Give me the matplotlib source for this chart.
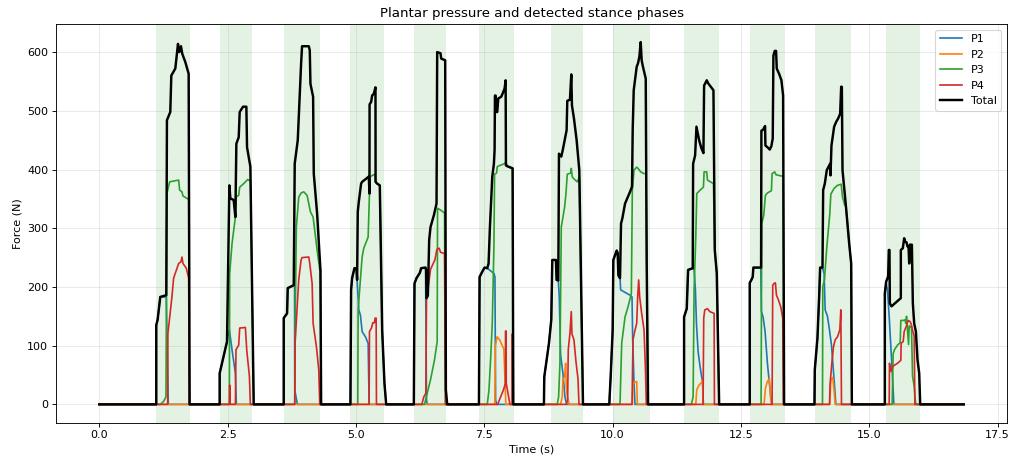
import matplotlib
matplotlib.use("Agg")
import matplotlib.pyplot as plt

# stance phases detected (s)
stance_start = [1.111, 2.345, 3.593, 4.893, 6.127, 7.407, 8.791, 10.014, 11.390, 12.676, 13.938, 15.322]
stance_end = [1.760, 2.977, 4.308, 5.556, 6.745, 8.076, 9.421, 10.721, 12.072, 13.353, 14.653, 15.990]

t_end = 16.84

# (time s, force N) breakpoints
total_pts = [
    (0.0, 0),
    (1.111, 0), (1.111, 135), (1.137, 144), (1.189, 183), (1.306, 186), (1.319, 484), (1.384, 498),
    (1.404, 560), (1.482, 572), (1.534, 614), (1.560, 600), (1.592, 610), (1.618, 597), (1.677, 583),
    (1.742, 563), (1.761, 0),
    (2.346, 0), (2.346, 53), (2.489, 107), (2.535, 373), (2.554, 351), (2.619, 348), (2.652, 319),
    (2.671, 444), (2.717, 455), (2.736, 498), (2.801, 507), (2.866, 507), (2.879, 438), (2.944, 405),
    (3.009, 0),
    (3.594, 0), (3.594, 147), (3.659, 155), (3.672, 198), (3.789, 203), (3.808, 410), (3.867, 450),
    (3.932, 580), (3.951, 610), (4.082, 610), (4.101, 603), (4.114, 546), (4.166, 524), (4.179, 393),
    (4.244, 325), (4.309, 229), (4.322, 0),
    (4.893, 0), (4.906, 195), (4.926, 215), (4.971, 232), (5.010, 232), (5.023, 212), (5.036, 328),
    (5.056, 345), (5.101, 376), (5.121, 379), (5.251, 388), (5.264, 359), (5.266, 511), (5.296, 515),
    (5.316, 526), (5.348, 529), (5.381, 540), (5.383, 379), (5.413, 376), (5.465, 373), (5.511, 127),
    (5.556, 36), (5.589, 0),
    (6.128, 0), (6.141, 206), (6.180, 215), (6.245, 224), (6.271, 232), (6.356, 233), (6.368, 229),
    (6.375, 181), (6.401, 185), (6.427, 280), (6.453, 302), (6.518, 322), (6.570, 342), (6.583, 600),
    (6.648, 598), (6.661, 589), (6.739, 586), (6.752, 25), (6.778, 0),
    (7.396, 0), (7.409, 217), (7.461, 226), (7.506, 233), (7.558, 232), (7.584, 240), (7.610, 302),
    (7.656, 388), (7.688, 410), (7.701, 433), (7.708, 526), (7.721, 526), (7.734, 498), (7.753, 498),
    (7.773, 521), (7.831, 524), (7.870, 532), (7.896, 538), (7.916, 552), (7.922, 407), (7.968, 405),
    (8.052, 402), (8.065, 0),
    (8.662, 0), (8.669, 47), (8.760, 104), (8.805, 144), (8.825, 246), (8.896, 246), (8.909, 212),
    (8.942, 211), (8.955, 427), (9.000, 422), (9.026, 432), (9.065, 450), (9.104, 467), (9.117, 517),
    (9.169, 519), (9.195, 562), (9.208, 509), (9.247, 487), (9.299, 450), (9.351, 399), (9.377, 251),
    (9.410, 70), (9.423, 0),
    (9.936, 0), (9.942, 13), (9.962, 47), (10.001, 127), (10.014, 246), (10.079, 262), (10.099, 258),
    (10.112, 220), (10.144, 215), (10.164, 308), (10.190, 317), (10.242, 342), (10.339, 362),
    (10.378, 371), (10.391, 467), (10.411, 535), (10.469, 575), (10.495, 581), (10.521, 592),
    (10.547, 617), (10.566, 586), (10.586, 577), (10.645, 555), (10.664, 240), (10.690, 0),
    (11.392, 0), (11.392, 149), (11.444, 163), (11.470, 229), (11.561, 232), (11.568, 410),
    (11.607, 424), (11.633, 473), (11.685, 450), (11.730, 436), (11.769, 428), (11.782, 543),
    (11.834, 552), (11.860, 547), (11.964, 535), (11.990, 263), (12.029, 223), (12.075, 0),
    (12.671, 0), (12.671, 207), (12.703, 212), (12.729, 217), (12.742, 233), (12.892, 233),
    (12.898, 466), (12.931, 468), (12.950, 471), (12.970, 474), (12.976, 441), (13.028, 437),
    (13.061, 434), (13.093, 440), (13.119, 453), (13.132, 594), (13.158, 602), (13.184, 602),
    (13.197, 572), (13.243, 563), (13.288, 552), (13.321, 526), (13.340, 0),
    (13.932, 0), (13.938, 59), (13.990, 113), (14.023, 183), (14.042, 233), (14.088, 233),
    (14.101, 365), (14.133, 376), (14.172, 399), (14.218, 407), (14.237, 410), (14.244, 390),
    (14.250, 407), (14.263, 441), (14.315, 473), (14.354, 481), (14.393, 487), (14.432, 495),
    (14.452, 541), (14.465, 541), (14.478, 399), (14.543, 339), (14.608, 274), (14.647, 240),
    (14.660, 0),
    (15.302, 0), (15.302, 189), (15.328, 209), (15.367, 218), (15.380, 263), (15.393, 263),
    (15.400, 172), (15.432, 167), (15.484, 171), (15.562, 177), (15.614, 181), (15.614, 263),
    (15.653, 266), (15.679, 283), (15.699, 277), (15.725, 276), (15.744, 269), (15.764, 269),
    (15.777, 240), (15.790, 272), (15.829, 272), (15.848, 172), (15.874, 138), (15.907, 124),
    (15.939, 76), (15.972, 53), (15.991, 0),
    (t_end, 0),
]

p1_pts = [
    (0.0, 0),
    (1.111, 0), (1.111, 135), (1.137, 144), (1.189, 183), (1.306, 183), (1.345, 0),
    (2.346, 0), (2.346, 53), (2.489, 107), (2.535, 127), (2.587, 93), (2.652, 53), (2.671, 0),
    (3.594, 0), (3.594, 147), (3.659, 155), (3.672, 198), (3.789, 203), (3.805, 203), (3.808, 25),
    (3.860, 0),
    (4.893, 0), (4.906, 195), (4.926, 215), (4.971, 232), (5.010, 232), (5.023, 212), (5.056, 161),
    (5.088, 152), (5.121, 124), (5.186, 115), (5.238, 104), (5.257, 0),
    (6.128, 0), (6.141, 206), (6.180, 215), (6.245, 224), (6.271, 232), (6.356, 233), (6.375, 8),
    (6.388, 0),
    (7.396, 0), (7.409, 217), (7.461, 226), (7.506, 233), (7.558, 232), (7.688, 223), (7.708, 217),
    (7.721, 8), (7.740, 0),
    (8.662, 0), (8.669, 47), (8.760, 104), (8.805, 144), (8.825, 246), (8.896, 246), (8.909, 212),
    (8.942, 211), (8.961, 183), (8.987, 84), (9.032, 53), (9.071, 13), (9.104, 0),
    (9.936, 0), (9.942, 13), (9.962, 47), (10.001, 127), (10.014, 246), (10.079, 262), (10.099, 258),
    (10.112, 220), (10.144, 215), (10.157, 195), (10.339, 186), (10.378, 183), (10.391, 110),
    (10.417, 36), (10.436, 0),
    (11.392, 0), (11.392, 149), (11.444, 163), (11.470, 229), (11.561, 232), (11.587, 229),
    (11.613, 195), (11.633, 138), (11.665, 90), (11.704, 64), (11.750, 39), (11.769, 0),
    (12.671, 0), (12.671, 207), (12.703, 212), (12.729, 217), (12.742, 233), (12.885, 233),
    (12.898, 158), (12.931, 149), (12.970, 124), (13.015, 70), (13.048, 41), (13.087, 8), (13.106, 0),
    (13.932, 0), (13.938, 59), (13.990, 113), (14.023, 183), (14.042, 233), (14.088, 233),
    (14.120, 223), (14.140, 161), (14.185, 150), (14.224, 127), (14.263, 101), (14.295, 64),
    (14.328, 25), (14.348, 0),
    (15.302, 0), (15.302, 189), (15.328, 206), (15.354, 195), (15.387, 150), (15.419, 99),
    (15.452, 48), (15.478, 0),
    (t_end, 0),
]

p2_pts = [
    (0.0, 0),
    (7.705, 0), (7.716, 100), (7.750, 115), (7.800, 110), (7.850, 100), (7.880, 95), (7.905, 40),
    (7.920, 0),
    (8.987, 0), (9.019, 13), (9.032, 44), (9.065, 46), (9.085, 70), (9.097, 30), (9.124, 11),
    (9.156, 0),
    (10.384, 0), (10.397, 36), (10.469, 39), (10.482, 0),
    (11.620, 0), (11.639, 25), (11.685, 33), (11.730, 37), (11.756, 41), (11.762, 0),
    (12.950, 0), (12.976, 27), (13.015, 39), (13.054, 44), (13.080, 8), (13.093, 0),
    (14.231, 0), (14.250, 41), (14.289, 46), (14.315, 22), (14.335, 0),
    (t_end, 0),
]

p3_pts = [
    (0.0, 0),
    (1.189, 0), (1.254, 5), (1.300, 13), (1.319, 359), (1.371, 379), (1.547, 382), (1.566, 365),
    (1.612, 362), (1.631, 355), (1.742, 349), (1.755, 0),
    (2.535, 0), (2.541, 223), (2.587, 274), (2.652, 319), (2.671, 354), (2.717, 356), (2.736, 370),
    (2.814, 376), (2.892, 383), (2.948, 380), (3.009, 0),
    (3.808, 0), (3.821, 166), (3.840, 302), (3.886, 353), (3.932, 360), (3.984, 362), (4.049, 356),
    (4.114, 328), (4.166, 319), (4.244, 263), (4.296, 229), (4.309, 229), (4.322, 0),
    (5.036, 0), (5.043, 161), (5.121, 251), (5.153, 266), (5.238, 285), (5.264, 359), (5.277, 388),
    (5.368, 392), (5.383, 379), (5.413, 376), (5.465, 373), (5.511, 127), (5.556, 36), (5.589, 0),
    (6.336, 0), (6.453, 42), (6.531, 76), (6.583, 107), (6.590, 334), (6.648, 331), (6.726, 326),
    (6.745, 0),
    (7.558, 0), (7.591, 24), (7.623, 76), (7.656, 138), (7.688, 268), (7.701, 392), (7.740, 394),
    (7.753, 405), (7.805, 407), (7.896, 410), (7.922, 413), (7.948, 405), (8.052, 402), (8.065, 0),
    (8.922, 0), (8.948, 13), (8.974, 70), (9.000, 302), (9.032, 319), (9.065, 336), (9.091, 359),
    (9.117, 392), (9.182, 394), (9.195, 402), (9.215, 387), (9.260, 383), (9.312, 379), (9.351, 387),
    (9.377, 251), (9.410, 70), (9.423, 0),
    (10.144, 0), (10.177, 104), (10.242, 149), (10.300, 166), (10.365, 189), (10.384, 365),
    (10.417, 399), (10.469, 404), (10.495, 402), (10.547, 396), (10.612, 393), (10.651, 393),
    (10.664, 240), (10.690, 0),
    (11.535, 0), (11.568, 13), (11.587, 195), (11.620, 285), (11.639, 359), (11.717, 366),
    (11.769, 370), (11.782, 396), (11.834, 396), (11.847, 382), (11.964, 376), (11.990, 263),
    (12.029, 223), (12.075, 0),
    (12.892, 0), (12.905, 308), (12.944, 322), (12.976, 356), (13.015, 360), (13.093, 364),
    (13.106, 393), (13.158, 396), (13.184, 391), (13.288, 389), (13.321, 389), (13.340, 0),
    (14.088, 0), (14.094, 200), (14.127, 213), (14.172, 268), (14.231, 325), (14.250, 358),
    (14.315, 368), (14.380, 373), (14.452, 375), (14.478, 353), (14.523, 339), (14.543, 339),
    (14.608, 274), (14.647, 240), (14.660, 0),
    (15.445, 0), (15.464, 86), (15.490, 93), (15.549, 101), (15.601, 105), (15.614, 143),
    (15.666, 143), (15.692, 144), (15.712, 138), (15.725, 150), (15.744, 127), (15.764, 102),
    (15.777, 134), (15.822, 130), (15.842, 48), (15.874, 31), (15.900, 3), (15.913, 0),
    (t_end, 0),
]

p4_pts = [
    (0.0, 0),
    (1.332, 0), (1.338, 121), (1.416, 183), (1.449, 215), (1.547, 240), (1.592, 243), (1.612, 251),
    (1.631, 240), (1.696, 232), (1.742, 215), (1.755, 0),
    (2.535, 0), (2.541, 33), (2.548, 0), (2.652, 0), (2.664, 93), (2.717, 101), (2.736, 130),
    (2.847, 131), (2.873, 93), (2.925, 48), (2.944, 0),
    (3.808, 0), (3.815, 104), (3.886, 212), (3.932, 246), (3.951, 250), (4.082, 251), (4.101, 240),
    (4.147, 206), (4.166, 138), (4.231, 98), (4.276, 59), (4.296, 0),
    (5.257, 0), (5.264, 124), (5.303, 130), (5.329, 139), (5.361, 139), (5.374, 147), (5.394, 147),
    (5.400, 0),
    (6.284, 0), (6.323, 13), (6.362, 19), (6.375, 178), (6.453, 230), (6.538, 246), (6.577, 264),
    (6.622, 266), (6.648, 259), (6.726, 257), (6.745, 0),
    (7.760, 0), (7.875, 25), (7.912, 36), (7.914, 125), (7.925, 125), (7.928, 36), (8.000, 0),
    (8.040, 0), (8.043, 120), (8.052, 120), (8.056, 0),
    (9.097, 0), (9.124, 8), (9.136, 93), (9.169, 121), (9.195, 158), (9.208, 120), (9.247, 110),
    (9.286, 73), (9.325, 44), (9.345, 0),
    (10.378, 0), (10.397, 110), (10.430, 124), (10.469, 138), (10.488, 183), (10.508, 212),
    (10.527, 183), (10.566, 155), (10.612, 127), (10.638, 64), (10.657, 0),
    (11.762, 0), (11.775, 147), (11.795, 161), (11.847, 163), (11.893, 158), (11.977, 155),
    (11.983, 0),
    (13.106, 0), (13.119, 203), (13.145, 206), (13.171, 207), (13.191, 186), (13.230, 178),
    (13.275, 166), (13.314, 147), (13.327, 0),
    (14.224, 0), (14.237, 36), (14.270, 70), (14.302, 98), (14.335, 110), (14.380, 115),
    (14.426, 127), (14.445, 161), (14.458, 0),
    (15.387, 0), (15.393, 70), (15.419, 56), (15.458, 65), (15.549, 70), (15.614, 75), (15.620, 104),
    (15.660, 107), (15.679, 124), (15.725, 134), (15.757, 143), (15.796, 141), (15.822, 135),
    (15.848, 124), (15.874, 116), (15.887, 0),
    (t_end, 0),
]

series = [("P1", p1_pts), ("P2", p2_pts), ("P3", p3_pts), ("P4", p4_pts)]

fig = plt.figure(figsize=(1011 / 80, 459 / 80), dpi=80)
ax = fig.add_axes([56 / 1011, 36.5 / 459, 951 / 1011, 398.5 / 459])

for s, e in zip(stance_start, stance_end):
    ax.axvspan(s, e, color="tab:green", alpha=0.13, linewidth=0)

for name, pts in series:
    t, f = zip(*pts)
    ax.plot(t, f, label=name, linewidth=1.5)

t, f = zip(*total_pts)
ax.plot(t, f, color="black", linewidth=2.2, label="Total")

ax.set_title("Plantar pressure and detected stance phases")
ax.set_xlabel("Time (s)")
ax.set_ylabel("Force (N)")
ax.grid(True, alpha=0.3)
ax.legend(loc="upper right")

fig.savefig("out.png", dpi=80)
